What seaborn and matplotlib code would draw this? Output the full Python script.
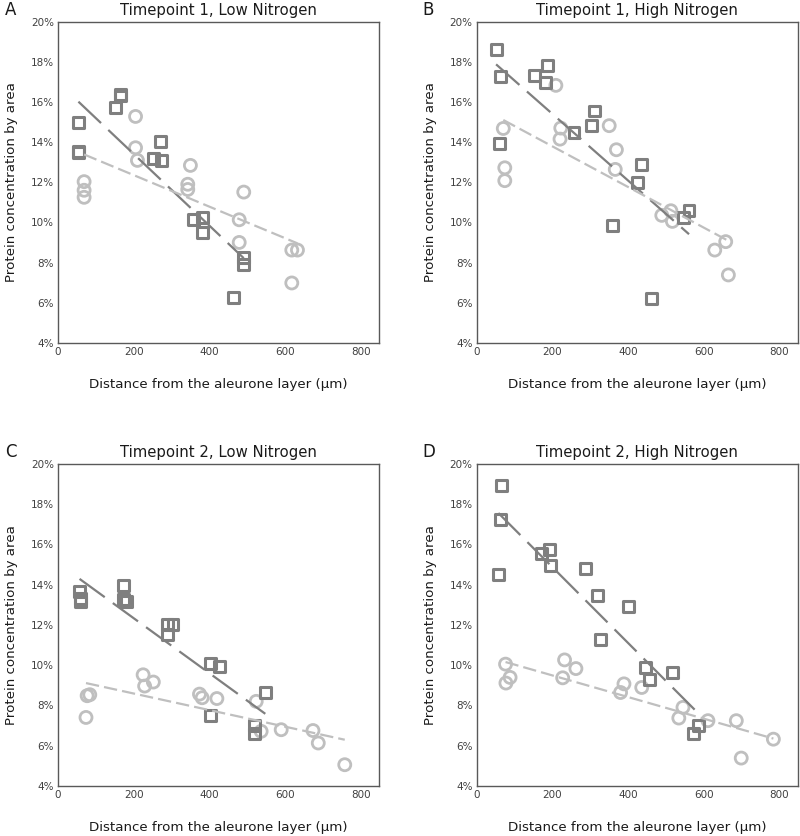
import numpy as np
import pandas as pd
import matplotlib
matplotlib.use("Agg")
import matplotlib.pyplot as plt
import matplotlib.ticker as ticker
import seaborn as sns

# =========================
# DATA
# =========================
titles = ["Timepoint 1, Low Nitrogen", "Timepoint 1, High Nitrogen",
          "Timepoint 2, Low Nitrogen", "Timepoint 2, High Nitrogen"]
letters = ["A", "B", "C", "D"]

# panel A
a_sq_x = [54, 54, 54, 153, 165, 165, 272, 253, 274, 359, 382, 382, 491, 491, 463]
a_sq_y = [15.0, 13.55, 13.5, 15.73, 16.36, 16.3, 14.05, 13.19, 13.09, 10.15, 10.25, 9.5, 8.24, 7.92, 6.26]
a_ci_x = [69, 69, 69, 205, 205, 210, 350, 343, 343, 491, 479, 479, 618, 633, 618]
a_ci_y = [12.03, 11.6, 11.25, 15.28, 13.72, 13.09, 12.84, 11.9, 11.64, 11.51, 10.13, 9.0, 8.62, 8.62, 6.98]

# panel B
b_sq_x = [51, 62, 60, 153, 186, 181, 257, 302, 312, 436, 424, 359, 462, 546, 561]
b_sq_y = [18.62, 17.29, 13.94, 17.33, 17.82, 16.98, 14.49, 14.83, 15.55, 12.89, 11.98, 9.83, 6.2, 10.25, 10.6]
b_ci_x = [70, 74, 74, 209, 222, 220, 350, 369, 366, 489, 513, 517, 629, 658, 665]
b_ci_y = [14.68, 12.72, 12.08, 16.83, 14.7, 14.15, 14.82, 13.62, 12.64, 10.35, 10.58, 10.05, 8.62, 9.04, 7.38]

# panel C
c_sq_x = [57, 59, 60, 174, 174, 181, 289, 289, 304, 403, 426, 403, 548, 520, 520]
c_sq_y = [13.66, 13.33, 13.16, 13.96, 13.28, 13.16, 12.0, 11.51, 12.0, 10.1, 9.93, 7.48, 8.64, 6.99, 6.59]
c_ci_x = [77, 84, 74, 225, 229, 252, 374, 381, 420, 524, 537, 590, 674, 688, 758]
c_ci_y = [8.48, 8.53, 7.40, 9.52, 8.96, 9.16, 8.56, 8.38, 8.34, 8.2, 6.71, 6.79, 6.75, 6.13, 5.05]

# panel D
d_sq_x = [66, 63, 57, 171, 193, 196, 288, 318, 402, 326, 446, 457, 518, 587, 574]
d_sq_y = [18.91, 17.22, 14.5, 15.53, 15.73, 14.97, 14.8, 13.44, 12.93, 11.26, 9.87, 9.29, 9.64, 6.99, 6.62]
d_ci_x = [76, 77, 88, 232, 262, 227, 380, 389, 436, 545, 534, 611, 686, 699, 784]
d_ci_y = [10.05, 9.11, 9.39, 10.26, 9.83, 9.37, 8.64, 9.07, 8.89, 7.90, 7.37, 7.24, 7.24, 5.38, 6.32]

squares = [(a_sq_x, a_sq_y), (b_sq_x, b_sq_y), (c_sq_x, c_sq_y), (d_sq_x, d_sq_y)]
circles = [(a_ci_x, a_ci_y), (b_ci_x, b_ci_y), (c_ci_x, c_ci_y), (d_ci_x, d_ci_y)]

dark = "#7f7f7f"
light = "#bfbfbf"

# =========================
# STYLE
# =========================
sns.set_style("white")
plt.rcParams["font.family"] = ["DejaVu Sans"]

fig = plt.figure(figsize=(8, 8.36), dpi=100)

# axes positions in figure fraction [left, bottom, width, height]
positions = [
    [0.0725, 0.590, 0.401, 0.384],
    [0.596, 0.590, 0.401, 0.384],
    [0.0725, 0.060, 0.401, 0.385],
    [0.596, 0.060, 0.401, 0.385],
]

for i in range(4):
    ax = fig.add_axes(positions[i])

    sq = pd.DataFrame({"x": squares[i][0], "y": squares[i][1]})
    ci = pd.DataFrame({"x": circles[i][0], "y": circles[i][1]})

    sns.scatterplot(data=ci, x="x", y="y", ax=ax, marker="o", s=75,
                    facecolor="none", edgecolor=light, linewidth=2)
    sns.scatterplot(data=sq, x="x", y="y", ax=ax, marker="s", s=62,
                    facecolor="none", edgecolor=dark, linewidth=2.2)

    sns.regplot(data=sq, x="x", y="y", ax=ax, scatter=False, ci=None,
                truncate=True, color=dark,
                line_kws={"linewidth": 1.6, "dashes": (14, 4.5)})
    sns.regplot(data=ci, x="x", y="y", ax=ax, scatter=False, ci=None,
                truncate=True, color=light,
                line_kws={"linewidth": 1.6, "dashes": (6, 2.3)})

    ax.set_xlim(0, 848)
    ax.set_ylim(4, 20)
    ax.set_xticks([0, 200, 400, 600, 800])
    ax.set_yticks(np.arange(4, 21, 2))
    ax.yaxis.set_major_formatter(ticker.FuncFormatter(lambda v, p: f"{v:.0f}%"))
    ax.tick_params(axis="both", labelsize=7.5, colors="#404040", length=0, pad=3)

    for s in ax.spines.values():
        s.set_color("#595959")
        s.set_linewidth(1)

    ax.set_title(titles[i], fontsize=10.7, color="#1a1a1a", pad=5)
    ax.set_xlabel("Distance from the aleurone layer (µm)", fontsize=9.6,
                  color="#1a1a1a", labelpad=15)
    ax.set_ylabel("Protein concentration by area", fontsize=9.6,
                  color="#1a1a1a", labelpad=9)

    ax.text(-0.165 if i % 2 == 0 else -0.171, 1.037, letters[i],
            transform=ax.transAxes, fontsize=12, color="#1a1a1a",
            ha="left", va="center")

fig.savefig("out.png", dpi=100)
